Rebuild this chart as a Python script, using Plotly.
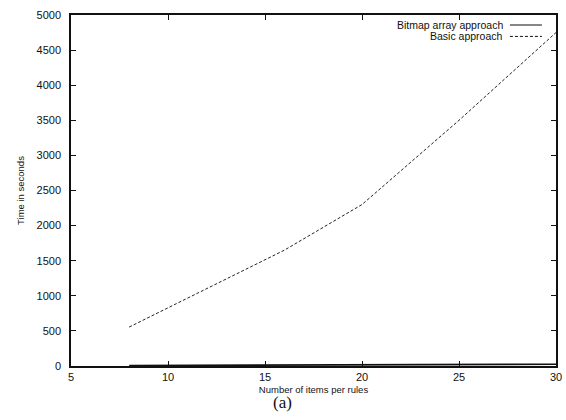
import plotly.graph_objects as go

# Number of items per rule and run time in seconds for each approach
items_per_rule = [8, 12, 16, 20, 25, 30]
basic_time = [555, 1100, 1650, 2300, 3500, 4750]
bitmap_time = [8, 10, 13, 16, 20, 25]

series_names = ["Bitmap array approach", "Basic approach"]
x_ticks = [5, 10, 15, 20, 25, 30]
y_ticks = list(range(0, 5001, 500))

FONT = "Liberation Sans, Arial, sans-serif"
INK = "#111111"

fig = go.Figure()
fig.add_trace(go.Scatter(
    x=items_per_rule, y=bitmap_time, mode="lines", name=series_names[0],
    line=dict(color=INK, width=1.6), showlegend=False,
))
fig.add_trace(go.Scatter(
    x=items_per_rule, y=basic_time, mode="lines", name=series_names[1],
    line=dict(color="#222222", width=1, dash="3px,2px"), showlegend=False,
))

# gnuplot-style key: text right-aligned, line sample on its right
key_rows = [(series_names[0], "solid", 1.2), (series_names[1], "3px,2px", 1)]
for i, (label, dash, w) in enumerate(key_rows):
    y = 0.9715 - i * 0.0325
    fig.add_annotation(
        x=0.893, y=y, xref="paper", yref="paper", text=label, showarrow=False,
        xanchor="right", yanchor="middle", borderpad=0,
        font=dict(family=FONT, size=10.5, color=INK),
    )
    fig.add_shape(
        type="line", xref="paper", yref="paper",
        x0=0.905, x1=0.971, y0=y, y1=y,
        line=dict(color=INK, width=w, dash=dash),
    )

# caption under the plot
fig.add_annotation(
    x=(282 - 71) / (556 - 71), y=-0.105, xref="paper", yref="paper",
    text="(a)", showarrow=False, xanchor="center", yanchor="middle",
    font=dict(family="Liberation Serif, Times New Roman, serif", size=17, color=INK),
)

axis_common = dict(
    showline=True, linecolor=INK, linewidth=1.5, mirror="ticks",
    ticks="inside", ticklen=5, tickwidth=1, tickcolor=INK,
    showgrid=False, zeroline=False, automargin=False,
    tickfont=dict(family=FONT, size=11, color=INK),
)

fig.update_layout(
    width=566, height=420,
    margin=dict(l=71, r=10, t=15, b=54),
    paper_bgcolor="white", plot_bgcolor="white",
    xaxis=dict(
        range=[5, 30], tickvals=x_ticks, ticktext=[str(v) for v in x_ticks],
        title=dict(text="Number of items per rules", standoff=4,
                   font=dict(family=FONT, size=9.5, color=INK)),
        **axis_common,
    ),
    yaxis=dict(
        range=[0, 5000], tickvals=y_ticks, ticktext=[str(v) for v in y_ticks],
        ticklabelstandoff=6,
        title=dict(text="Time in seconds", standoff=10,
                   font=dict(family=FONT, size=9.5, color=INK)),
        **axis_common,
    ),
)

fig.write_html("out.html")
